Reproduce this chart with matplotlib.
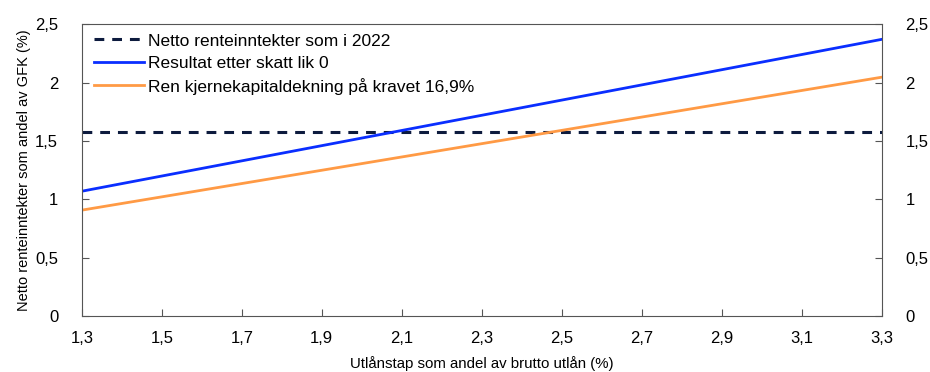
import matplotlib.pyplot as plt
from matplotlib.ticker import FuncFormatter

plt.rcParams['font.family'] = ['Liberation Sans', 'DejaVu Sans']

# data
x_loss = [1.3, 3.3]
netto_2022 = [1.578, 1.578]
resultat_0 = [1.07, 2.37]
kjernekapital = [0.908, 2.046]

x_ticks = [1.3, 1.5, 1.7, 1.9, 2.1, 2.3, 2.5, 2.7, 2.9, 3.1, 3.3]
y_ticks = [0, 0.5, 1, 1.5, 2, 2.5]

def comma(v, pos):
    s = ('%.1f' % v).rstrip('0').rstrip('.')
    return s.replace('.', ',')

fig, ax = plt.subplots(figsize=(9.3, 3.72), dpi=100)
fig.subplots_adjust(left=0.088, right=0.948, top=0.935, bottom=0.15)

ax.plot(x_loss, netto_2022, color='#0d1b3e', lw=2.2, ls=(0, (3.2, 2.6)),
        label='Netto renteinntekter som i 2022')
ax.plot(x_loss, resultat_0, color='#0a2eff', lw=2.0, label='Resultat etter skatt lik 0')
ax.plot(x_loss, kjernekapital, color='#ff9a45', lw=2.0,
        label='Ren kjernekapitaldekning på kravet 16,9%')

ax.set_xlim(1.3, 3.3)
ax.set_ylim(0, 2.5)
ax.set_xticks(x_ticks)
ax.set_yticks(y_ticks)
ax.xaxis.set_major_formatter(FuncFormatter(comma))
ax.yaxis.set_major_formatter(FuncFormatter(comma))
ax.tick_params(axis='both', direction='in', length=5, labelsize=12, color='#555555')
ax.tick_params(axis='x', pad=11)
ax.tick_params(axis='y', pad=17)
ax.tick_params(axis='y', right=True, labelright=True)
for sp in ax.spines.values():
    sp.set_color('#555555')

ax.set_xlabel('Utlånstap som andel av brutto utlån (%)', fontsize=10.8, labelpad=7)
ax.set_ylabel('Netto renteinntekter som andel av GFK (%)', fontsize=10.5, labelpad=3)

ax.legend(loc='upper left', frameon=False, fontsize=12.5, handlelength=2.9,
          handletextpad=0.2, labelspacing=0.4, borderaxespad=0.3,
          bbox_to_anchor=(0.0, 1.01))

fig.savefig('out.png', dpi=100)
